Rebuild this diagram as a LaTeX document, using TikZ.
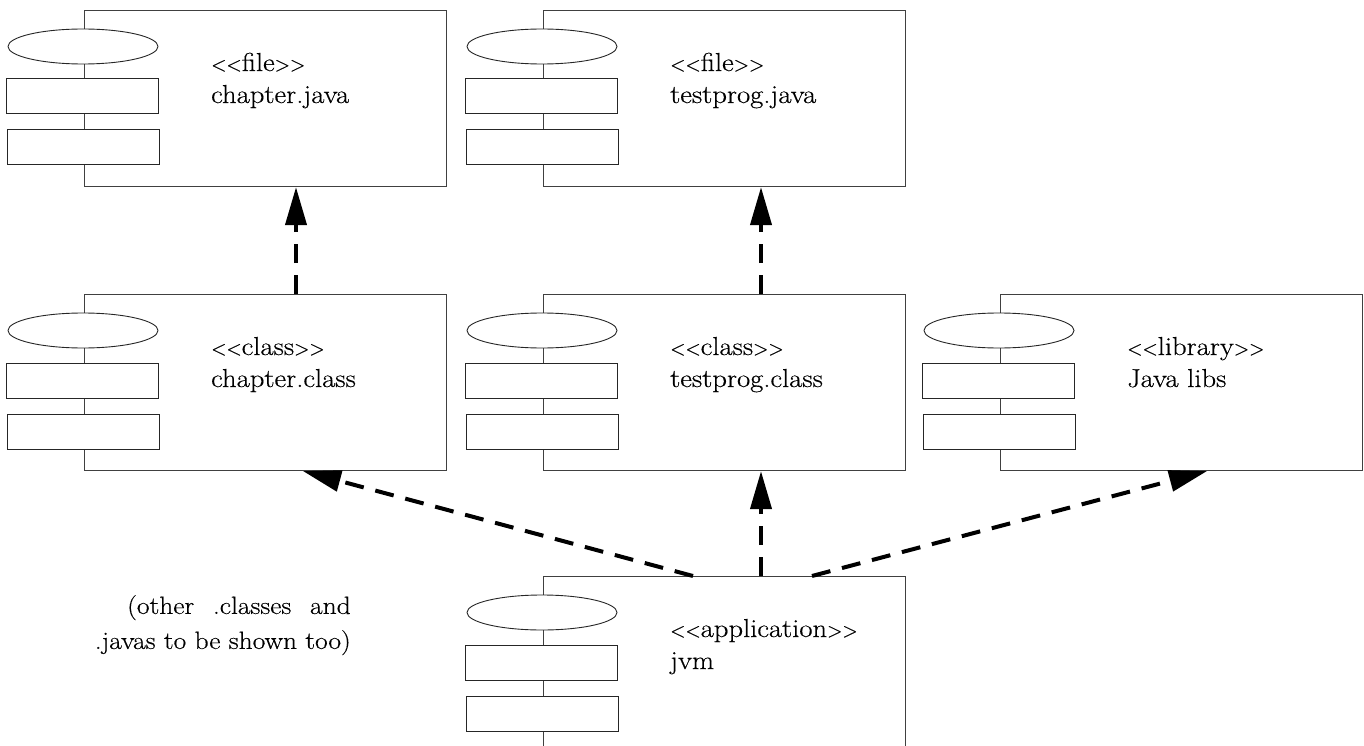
\documentclass[tikz,border=0pt]{standalone}
\usepackage{fontspec}
\setmainfont{Latin Modern Roman}[FakeStretch=1.1, FakeBold=0.4]
\usetikzlibrary{arrows.meta,shapes.geometric}

\tikzset{
  compbox/.style={draw=black!75, line width=1.1pt, rectangle, minimum width=362pt,
    minimum height=176pt, inner sep=0pt, anchor=north west},
  compoval/.style={draw=black!85, line width=0.9pt, fill=white, ellipse,
    minimum width=150pt, minimum height=35pt, inner sep=0pt},
  compbar/.style={draw=black!85, line width=1pt, fill=white, rectangle,
    minimum width=152pt, minimum height=35pt, inner sep=0pt},
  comptext/.style={anchor=base west, inner sep=0pt, font=\fontsize{26}{32}\selectfont},
  dep/.style={line width=4pt, dash pattern=on 19pt off 12pt,
    -{Triangle[length=38pt,width=21pt]}},
}

% compact angle brackets for stereotypes
\newcommand\lt{\scalebox{0.7}[0.8]{<}}
\newcommand\gt{\scalebox{0.7}[0.8]{>}}
\newcommand\stereotype[1]{\lt\lt#1\gt\gt}

% UML component: name, left, top, stereotype, label
\newcommand\umlcomponent[5]{%
  \node[compbox] (#1) at (#2,#3) {};
  \node[compoval] (#1-oval) at ({#2-1},{#3+36.5}) {};
  \node[compbar] (#1-bar1) at ({#2-2},{#3+86.5}) {};
  \node[compbar] (#1-bar2) at ({#2-1},{#3+137.5}) {};
  \node[comptext] (#1-kind) at ({#2+127},{#3+61}) {\stereotype{#4}};
  \node[comptext] (#1-name) at ({#2+127},{#3+93}) {#5};
}

\begin{document}
\begin{tikzpicture}[x=1pt,y=-1pt]
  \useasboundingbox (0,0) rectangle (1364,746);

  \umlcomponent{cj}{84}{10}{file}{chapter.java}
  \umlcomponent{tj}{543}{10}{file}{testprog.java}
  \umlcomponent{cc}{84}{294}{class}{chapter.class}
  \umlcomponent{tc}{543}{294}{class}{testprog.class}
  \umlcomponent{jl}{1000}{294}{library}{Java libs}
  \umlcomponent{jvm}{543}{576}{application}{jvm}

  % dependencies
  \draw[dep] ([xshift=212pt]cc.north west) -- ([xshift=212pt]cj.south west);
  \draw[dep] ([xshift=218pt]tc.north west) -- ([xshift=218pt]tj.south west);
  \draw[dep] ([xshift=150pt]jvm.north west) -- ([xshift=219pt]cc.south west);
  \draw[dep] ([xshift=218pt]jvm.north west) -- ([xshift=218pt]tc.south west);
  \draw[dep] ([xshift=269pt]jvm.north west) -- ([xshift=207pt]jl.south west);

  \node[font=\fontsize{25}{35}\selectfont, align=right, anchor=north east, inner sep=0pt]
    (note) at (351,595)
    {(other\hspace{0.75em}.classes\hspace{0.75em}and\\.javas to be shown too)};
\end{tikzpicture}
\end{document}
